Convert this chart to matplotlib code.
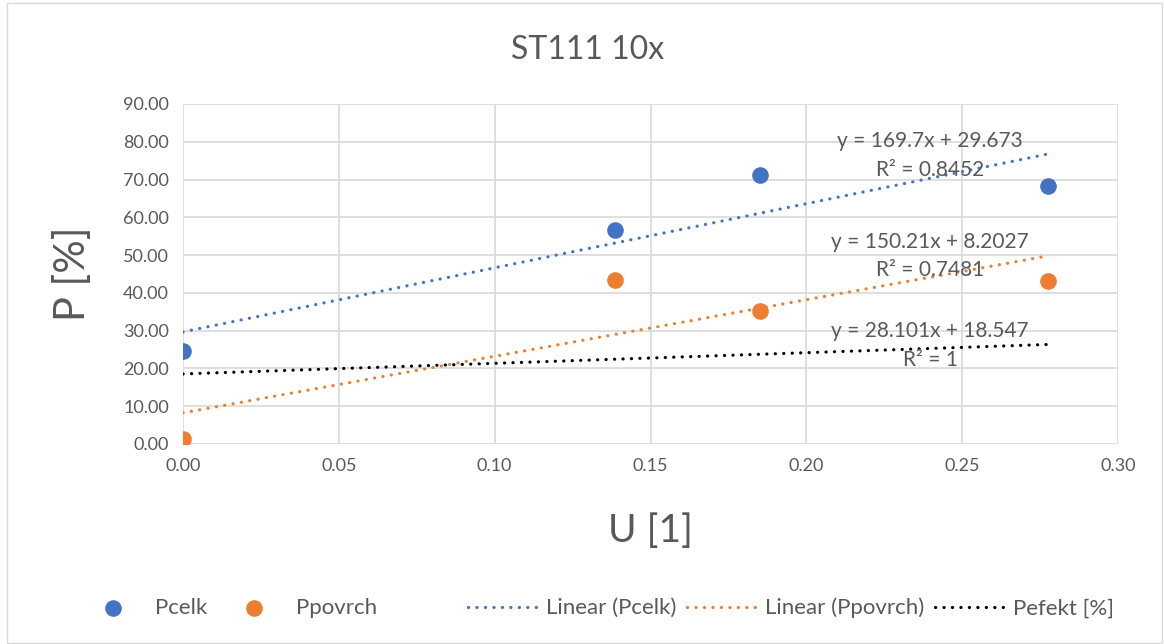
import numpy as np
import matplotlib.pyplot as plt
from matplotlib.patches import Rectangle

plt.rcParams['font.family'] = ['Lato', 'DejaVu Sans']

# data
u = [0.0, 0.1386, 0.1851, 0.2775]
p_celk = [24.6, 56.6, 71.2, 68.3]
p_povrch = [1.3, 43.4, 35.2, 43.1]
p_efekt = [18.55, 22.44, 23.75, 26.35]

eq_celk = ["y = 169.7x + 29.673", "R² = 0.8452"]
eq_povrch = ["y = 150.21x + 8.2027", "R² = 0.7481"]
eq_efekt = ["y = 28.101x + 18.547", "R² = 1"]

blue = "#4472C4"
orange = "#ED7D31"
grey = "#595959"

fig = plt.figure(figsize=(11.64, 6.44), dpi=100)
ax = fig.add_axes([183/1164, 1 - 444/644, (1118-183)/1164, (444-104)/644])

# trendlines (round dots like excel's "round dot" style)
xs = np.array([min(u), max(u)])
dots = (0, (0.05, 2.6))
for ys, col, lab in [(p_celk, blue, "Linear (Pcelk)"),
                     (p_povrch, orange, "Linear (Ppovrch)"),
                     (p_efekt, "black", "Pefekt [%]")]:
    k, q = np.polyfit(u, ys, 1)
    ax.plot(xs, k * xs + q, color=col, lw=2.3, ls=dots,
            dash_capstyle='round', label=lab, zorder=3)

ax.scatter(u, p_celk, s=120, color=blue, label="Pcelk", zorder=4)
ax.scatter(u, p_povrch, s=120, color=orange, label="Ppovrch", zorder=4)

# trendline labels
for txt, yy in [(eq_celk, (80.3, 72.6)), (eq_povrch, (53.5, 46.1)), (eq_efekt, (29.9, 22.3))]:
    ax.text(0.2397, yy[0], txt[0], ha='center', va='center', fontsize=15, color=grey, zorder=5)
    ax.text(0.2397, yy[1], txt[1], ha='center', va='center', fontsize=15, color=grey, zorder=5)

ax.set_xlim(0, 0.30)
ax.set_ylim(0, 90)
ax.set_xticks(np.arange(0, 0.301, 0.05))
ax.set_yticks(np.arange(0, 90.1, 10))
ax.xaxis.set_major_formatter(lambda v, pos: f"{v:.2f}")
ax.yaxis.set_major_formatter(lambda v, pos: f"{v:.2f}")
ax.grid(True, color="#d9d9d9", lw=1.2)
ax.set_axisbelow(True)
for s in ax.spines.values():
    s.set_visible(False)
ax.tick_params(length=0, labelsize=13, colors=grey, pad=10)

fig.text(588/1164, 1 - 50/644, "ST111 10x", ha='center', va='center', fontsize=23, color=grey)
ax.set_xlabel("U [1]", fontsize=28, color=grey, labelpad=28)
ax.set_ylabel("P [%]", fontsize=30, color=grey)
ax.yaxis.set_label_coords(-(183 - 92) / 935, 0.5)

handles, labels = ax.get_legend_handles_labels()
leg_y = 1 - 608/644
fig.legend([handles[3], handles[4]], [labels[3], labels[4]],
           loc='center left', bbox_to_anchor=(57/1164, leg_y), ncol=2,
           frameon=False, fontsize=16, labelcolor=grey, handlelength=3.2,
           handletextpad=0.3, columnspacing=0.5)
fig.legend(handles[:3], labels[:3],
           loc='center left', bbox_to_anchor=(448/1164, leg_y), ncol=3,
           frameon=False, fontsize=16, labelcolor=grey, handlelength=3.2,
           handletextpad=0.3, columnspacing=0.5)

fig.patches.append(Rectangle((7/1164, 0.002), 1 - 9/1164, 0.994, transform=fig.transFigure,
                             fill=False, edgecolor="#d9d9d9", lw=1))

fig.savefig("out.png", dpi=100, facecolor="white")
